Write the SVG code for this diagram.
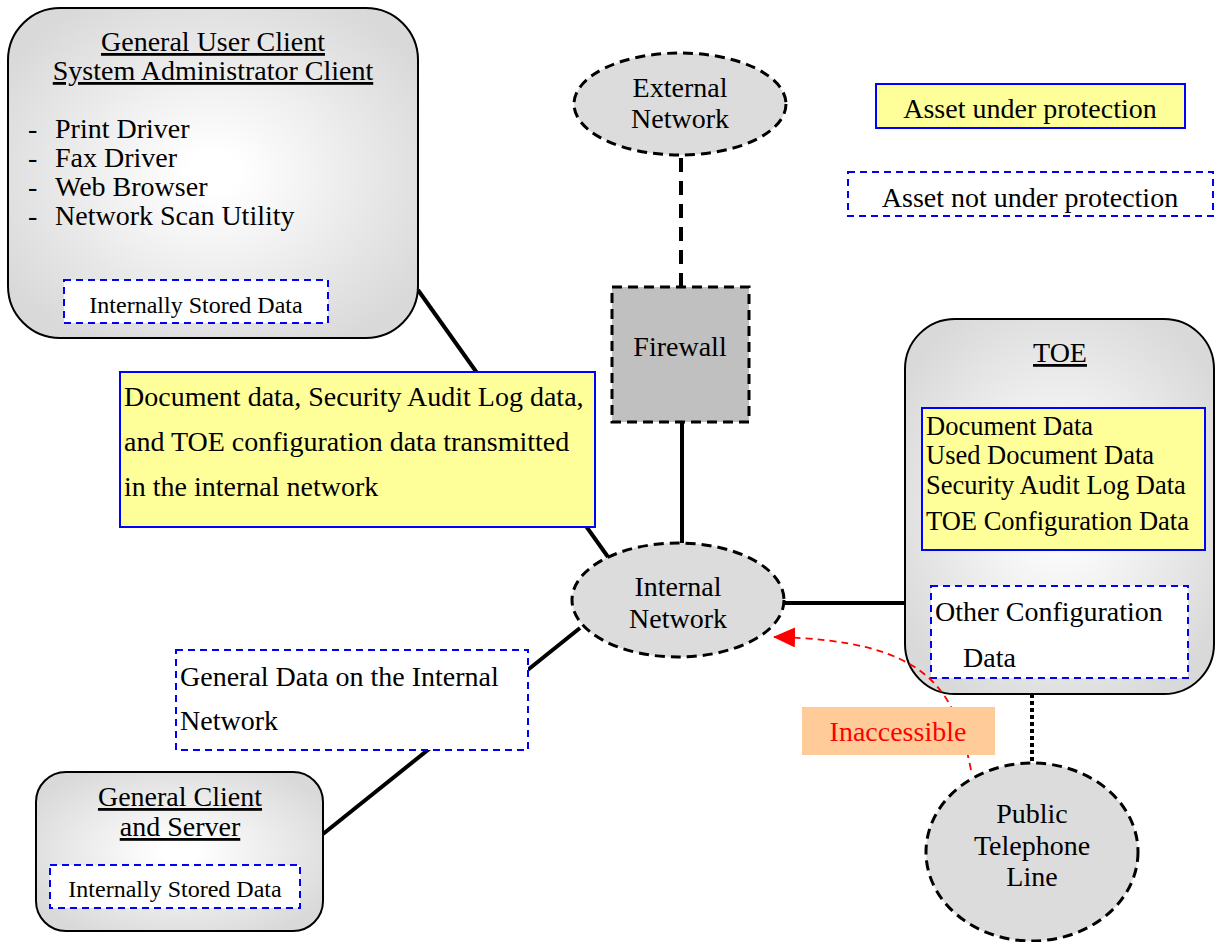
<svg xmlns="http://www.w3.org/2000/svg" width="1215" height="942" viewBox="0 0 1215 942">
<defs>
<radialGradient id="g" cx="50%" cy="50%" r="60%">
<stop offset="0.1" stop-color="#ffffff"/>
<stop offset="1" stop-color="#d9d9d9"/>
</radialGradient>
<marker id="arr" markerWidth="22" markerHeight="20" refX="21" refY="10" orient="auto" markerUnits="userSpaceOnUse" viewBox="0 0 22 20">
<path d="M0,0 L22,10 L0,20 z" fill="#ff0000"/>
</marker>
</defs>
<style>
text{font-family:"Liberation Serif","Times New Roman",serif;font-size:28px;fill:#000}
.c{text-anchor:middle}
.u{text-decoration:underline}
.s{font-size:24px}
.t{font-size:26.5px}
.box{fill:url(#g);stroke:#000;stroke-width:2}
.ell{fill:#dcdcdc;stroke:#000;stroke-width:3;stroke-dasharray:10 6}
.prot{fill:#ffff99;stroke:#0000ff;stroke-width:2}
.unprot{fill:#fff;stroke:#0000ff;stroke-width:2;stroke-dasharray:7 5}
.ln{stroke:#000;stroke-width:4;fill:none}
</style>
<g id="connectors">
<line class="ln" x1="418" y1="290" x2="608" y2="557"/>
<line class="ln" x1="580" y1="628" x2="323" y2="834"/>
<line class="ln" x1="681" y1="158" x2="681" y2="288" stroke-dasharray="14 9"/>
<line class="ln" x1="682" y1="422" x2="682" y2="543"/>
<line class="ln" x1="785" y1="603" x2="905" y2="603"/>
<line class="ln" x1="1032" y1="694" x2="1032" y2="763" stroke-dasharray="4 3"/>
</g>
<g id="client-admin">
<rect class="box" x="8" y="8" width="410" height="330" rx="52"/>
<text class="c u" x="213" y="51">General User Client</text>
<text class="c u" x="213" y="80">System Administrator Client</text>
<text x="28" y="138">-</text><text x="55" y="138">Print Driver</text>
<text x="28" y="167">-</text><text x="55" y="167">Fax Driver</text>
<text x="28" y="196">-</text><text x="55" y="196">Web Browser</text>
<text x="28" y="225">-</text><text x="55" y="225">Network Scan Utility</text>
<rect class="unprot" x="64" y="280" width="264" height="43"/>
<text class="c s" x="196" y="313">Internally Stored Data</text>
</g>
<g id="external-network">
<ellipse class="ell" cx="680" cy="104" rx="106" ry="51"/>
<text class="c" x="680" y="97">External</text>
<text class="c" x="680" y="128">Network</text>
</g>
<g id="firewall">
<rect x="612" y="287" width="137" height="135" fill="#c0c0c0" stroke="#000" stroke-width="3" stroke-dasharray="10 6"/>
<text class="c" x="680" y="356">Firewall</text>
</g>
<g id="internal-data">
<rect class="prot" x="120" y="372" width="475" height="155"/>
<text x="124" y="406">Document data, Security Audit Log data,</text>
<text x="124" y="451">and TOE configuration data transmitted</text>
<text x="124" y="496">in the internal network</text>
</g>
<g id="internal-network">
<ellipse class="ell" cx="678" cy="600" rx="106" ry="57"/>
<text class="c" x="678" y="596">Internal</text>
<text class="c" x="678" y="628">Network</text>
</g>
<g id="legend">
<rect class="prot" x="876" y="84" width="309" height="44"/>
<text class="c" x="1030" y="118">Asset under protection</text>
<rect class="unprot" x="848" y="172" width="365" height="44"/>
<text class="c" x="1030" y="207">Asset not under protection</text>
</g>
<g id="toe">
<rect class="box" x="905" y="319" width="309" height="375" rx="50"/>
<text class="c u" x="1060" y="362">TOE</text>
<rect class="prot" x="922" y="408" width="283" height="142"/>
<text class="t" x="926" y="435">Document Data</text>
<text class="t" x="926" y="464">Used Document Data</text>
<text class="t" x="926" y="494">Security Audit Log Data</text>
<text class="t" x="926" y="530">TOE Configuration Data</text>
<rect class="unprot" x="931" y="586" width="257" height="92"/>
<text x="935" y="621">Other Configuration</text>
<text x="963" y="667">Data</text>
</g>
<g id="general-data">
<rect class="unprot" x="176" y="650" width="352" height="100"/>
<text x="180" y="686">General Data on the Internal</text>
<text x="180" y="730">Network</text>
</g>
<g id="general-client">
<rect class="box" x="36" y="772" width="287" height="159" rx="30"/>
<text class="c u" x="180" y="806">General Client</text>
<text class="c u" x="180" y="836">and Server</text>
<rect class="unprot" x="50" y="865" width="250" height="43"/>
<text class="c s" x="175" y="897">Internally Stored Data</text>
</g>
<g id="public-telephone">
<ellipse class="ell" cx="1032" cy="852" rx="106" ry="89"/>
<text class="c" x="1032" y="823">Public</text>
<text class="c" x="1032" y="855">Telephone</text>
<text class="c" x="1032" y="886">Line</text>
</g>
<g id="inaccessible">
<path d="M971,770 C955,690 930,640 774,637" fill="none" stroke="#ff0000" stroke-width="1.8" stroke-dasharray="7 5" marker-end="url(#arr)"/>
<rect x="802" y="707" width="193" height="48" fill="#ffcc99"/>
<text class="c" x="898" y="741" style="fill:#ff0000">Inaccessible</text>
</g>
</svg>
